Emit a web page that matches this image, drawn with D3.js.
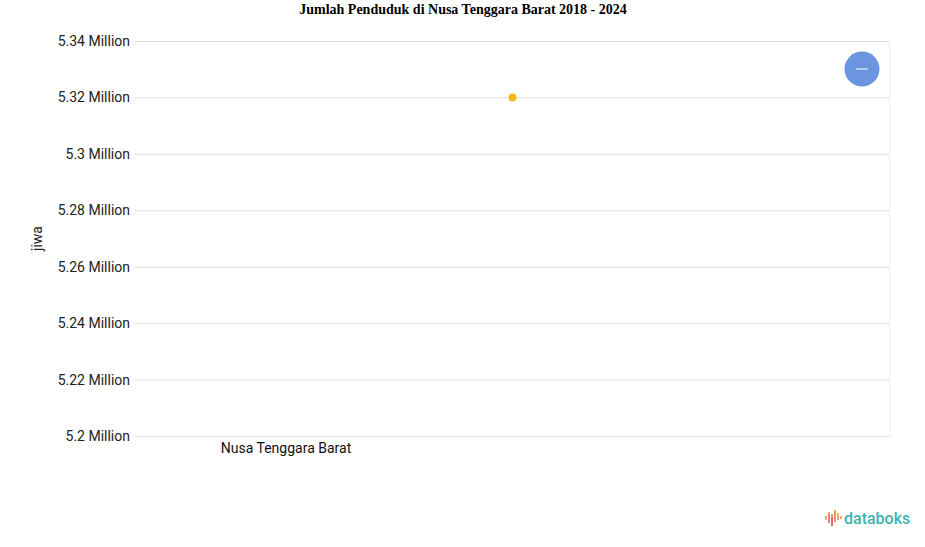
<!DOCTYPE html>
<html><head><meta charset="utf-8">
<script src="https://cdn.jsdelivr.net/npm/d3@7"></script>
<style>body{margin:0;background:#fff;}svg{display:block;font-family:Roboto,sans-serif;}</style>
</head><body>
<svg id="c" width="925" height="547"></svg>
<script>
const categories = ["Nusa Tenggara Barat"];
const values = [5320000];
const yTicks = [5200000, 5220000, 5240000, 5260000, 5280000, 5300000, 5320000, 5340000];
const tickLabels = ["5.2 Million","5.22 Million","5.24 Million","5.26 Million","5.28 Million","5.3 Million","5.32 Million","5.34 Million"];

const svg = d3.select("#c");
const L = 135, R = 890, T = 41, B = 436;
const y = d3.scaleLinear().domain([5200000, 5340000]).range([B, T]);
const x = d3.scaleLinear().domain([0, 1]).range([L, R]);

svg.append("text").attr("x", 463).attr("y", 14).attr("text-anchor", "middle")
  .attr("font-family", "'Liberation Serif','Times New Roman',serif").attr("font-weight", "bold")
  .attr("font-size", 14).attr("fill", "#000").text("Jumlah Penduduk di Nusa Tenggara Barat 2018 - 2024");

const yAxis = d3.axisLeft(y).tickValues(yTicks).tickSize(-(R - L)).tickPadding(5)
  .tickFormat((d, i) => tickLabels[i]);
const ga = svg.append("g").attr("transform", `translate(${L},0)`).call(yAxis);
ga.select(".domain").remove();
ga.selectAll(".tick line").attr("stroke", "#dddddd").attr("x1", 0);
ga.selectAll(".tick text").attr("font-size", 14).attr("fill", "#222").attr("font-family", "Roboto,sans-serif");
svg.append("line").attr("x1", R).attr("x2", R).attr("y1", T).attr("y2", B).attr("stroke", "#eeeeee");

svg.append("text").attr("transform", `translate(42,${(T + B) / 2}) rotate(-90)`)
  .attr("text-anchor", "middle").attr("font-size", 14).attr("fill", "#222").text("jiwa");

svg.selectAll(".cat").data(categories).join("text").attr("class", "cat")
  .attr("x", 286).attr("y", 453).attr("text-anchor", "middle").attr("font-size", 14).attr("fill", "#111")
  .text(d => d);

svg.selectAll(".pt").data(values).join("circle").attr("class", "pt")
  .attr("cx", x(0.5)).attr("cy", d => y(d)).attr("r", 4).attr("fill", "#f2b91f");

// legend button
svg.append("circle").attr("cx", 862).attr("cy", 69).attr("r", 17.5).attr("fill", "#6b96df");
svg.append("line").attr("x1", 856).attr("x2", 868).attr("y1", 69).attr("y2", 69).attr("stroke", "#fff").attr("stroke-width", 1);

// databoks logo
const bars = [[825,516,4,"#f2a37a","#f7b78a"],[828,512,11,"#f4a36a","#ef7676"],[831,514,12,"#f09a6a","#ee6a6a"],[834,510,12,"#f2a05a","#f08a7a"],[837,513,7,"#f5b06a","#f5a08a"],[840,516,3,"#f5b06a","#f5b06a"]];
bars.forEach(b => {
  svg.append("rect").attr("x", b[0]).attr("y", b[1]).attr("width", 2).attr("height", b[2]).attr("fill", b[4]);
  svg.append("rect").attr("x", b[0]).attr("y", b[1]).attr("width", 2).attr("height", Math.min(3, b[2])).attr("fill", b[3]);
});
svg.append("text").attr("x", 844).attr("y", 524).attr("font-size", 16).attr("font-weight", 500)
  .attr("fill", "#3db3ad").text("databoks");
</script>
</body></html>
